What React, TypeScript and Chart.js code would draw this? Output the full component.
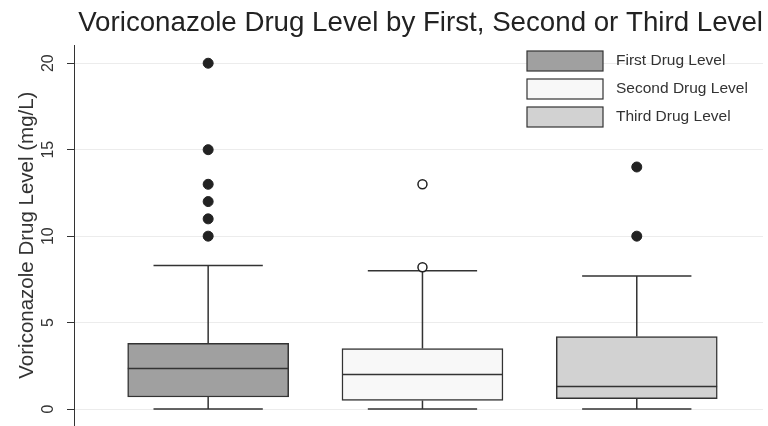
import React, { useEffect, useRef } from "react";
import { Chart, registerables } from "chart.js";

Chart.register(...registerables);

const groups = ["First Drug Level", "Second Drug Level", "Third Drug Level"];
const positions = [1, 2, 3];
const lowerWhisker = [0, 0, 0];
const q1 = [0.7, 0.5, 0.6];
const medians = [2.35, 2.0, 1.3];
const q3 = [3.8, 3.5, 4.2];
const upperWhisker = [8.3, 8.0, 7.7];
const outliersFirst = [20, 15, 13, 12, 11, 10];
const outliersSecond = [13, 8.2];
const outliersThird = [14, 10];
const yTicks = [0, 5, 10, 15, 20];

const fills = ["#a0a0a0", "#f8f8f8", "#d2d2d2"];
const stroke = "#333333";
const FONT = "'Liberation Sans', Arial, Helvetica, sans-serif";

const boxPlugin = {
  id: "boxExtras",
  beforeDatasetsDraw(chart: any) {
    const { ctx, scales } = chart;
    const x = scales.x;
    const y = scales.y;
    ctx.save();
    ctx.strokeStyle = stroke;
    ctx.lineWidth = 1.5;
    positions.forEach((p, i) => {
      const cx = x.getPixelForValue(p);
      const capL = x.getPixelForValue(p - 0.255);
      const capR = x.getPixelForValue(p + 0.255);
      const yHi = y.getPixelForValue(upperWhisker[i]);
      const yLo = y.getPixelForValue(lowerWhisker[i]);
      ctx.beginPath();
      ctx.moveTo(cx, yHi);
      ctx.lineTo(cx, y.getPixelForValue(q3[i]));
      ctx.moveTo(cx, yLo);
      ctx.lineTo(cx, y.getPixelForValue(q1[i]));
      ctx.moveTo(capL, yHi);
      ctx.lineTo(capR, yHi);
      ctx.moveTo(capL, yLo);
      ctx.lineTo(capR, yLo);
      ctx.stroke();
    });
    ctx.restore();
  },
  afterDatasetsDraw(chart: any) {
    const { ctx, scales } = chart;
    const x = scales.x;
    const y = scales.y;
    ctx.save();
    ctx.strokeStyle = stroke;
    ctx.lineWidth = 1.5;
    positions.forEach((p, i) => {
      const l = x.getPixelForValue(p - 0.375);
      const r = x.getPixelForValue(p + 0.375);
      const ym = y.getPixelForValue(medians[i]);
      ctx.beginPath();
      ctx.moveTo(l, ym);
      ctx.lineTo(r, ym);
      ctx.stroke();
    });
    ctx.restore();
  },
  afterDraw(chart: any) {
    const { ctx, scales } = chart;
    const y = scales.y;
    ctx.save();
    ctx.fillStyle = "#333333";
    ctx.font = `16px ${FONT}`;
    ctx.textAlign = "center";
    ctx.textBaseline = "middle";
    yTicks.forEach((t) => {
      const py = y.getPixelForValue(t);
      ctx.save();
      ctx.translate(49, py);
      ctx.rotate(-Math.PI / 2);
      ctx.fillText(String(t), 0, 0);
      ctx.restore();
    });
    ctx.font = `15.5px ${FONT}`;
    ctx.textAlign = "left";
    const lx = 527;
    const lw = 76;
    const lh = 20;
    const tops = [51, 79, 107];
    groups.forEach((g, i) => {
      ctx.fillStyle = fills[i];
      ctx.fillRect(lx, tops[i], lw, lh);
      ctx.strokeStyle = stroke;
      ctx.lineWidth = 1.2;
      ctx.strokeRect(lx, tops[i], lw, lh);
      ctx.fillStyle = "#333333";
      ctx.fillText(g, 616, tops[i] + lh / 2);
    });
    ctx.restore();
  },
};

export default function App() {
  const ref = useRef<HTMLCanvasElement | null>(null);
  useEffect(() => {
    document.body.style.margin = "0";
    const boxDatasets = groups.map((g, i) => ({
      type: "bar" as const,
      label: g,
      data: [{ x: positions[i], y: [q1[i], q3[i]] }],
      backgroundColor: fills[i],
      borderColor: stroke,
      borderWidth: 1.5,
      borderSkipped: false,
      barThickness: 161,
      grouped: false,
      order: 2,
    }));
    const filledPts = [
      ...outliersFirst.map((v) => ({ x: positions[0], y: v })),
      ...outliersThird.map((v) => ({ x: positions[2], y: v })),
    ];
    const hollowPts = outliersSecond.map((v) => ({ x: positions[1], y: v }));
    const chart = new Chart(ref.current as HTMLCanvasElement, {
      type: "bar",
      data: {
        datasets: [
          ...boxDatasets,
          {
            type: "scatter",
            label: "outliers",
            data: filledPts,
            pointRadius: 5,
            pointBackgroundColor: "#222222",
            pointBorderColor: "#222222",
            pointBorderWidth: 1,
            order: 1,
          },
          {
            type: "scatter",
            label: "outliers2",
            data: hollowPts,
            pointRadius: 4.5,
            pointBackgroundColor: "#ffffff",
            pointBorderColor: "#222222",
            pointBorderWidth: 1.5,
            order: 1,
          },
        ] as any,
      },
      options: {
        animation: false,
        responsive: false,
        maintainAspectRatio: false,
        layout: { autoPadding: false, padding: { left: 0, right: 5, top: 0, bottom: 1 } },
        plugins: {
          legend: { display: false },
          tooltip: { enabled: false },
          title: {
            display: true,
            text: "Voriconazole Drug Level by First, Second or Third Level",
            align: "end",
            color: "#222222",
            font: { family: FONT, size: 27.7, weight: "normal", lineHeight: 1.2 },
            padding: { top: 7, bottom: 5 },
          },
        },
        scales: {
          x: {
            type: "linear",
            min: 0.374,
            max: 3.589,
            offset: false,
            display: false,
            grid: { display: false },
          },
          y: {
            type: "linear",
            min: -0.92,
            max: 21.04,
            afterFit(scale: any) {
              scale.width = 74;
            },
            afterBuildTicks(scale: any) {
              scale.ticks = yTicks.map((v) => ({ value: v }));
            },
            ticks: { display: false },
            grid: {
              color: "#ececec",
              lineWidth: 1,
              tickColor: "#333333",
              tickLength: 7,
              drawTicks: true,
            },
            border: { display: true, color: "#333333", width: 1 },
            title: {
              display: true,
              text: "Voriconazole Drug Level (mg/L)",
              color: "#333333",
              font: { family: FONT, size: 20.5 },
              padding: { top: 15, bottom: 0 },
            },
          },
        },
      },
      plugins: [boxPlugin],
    } as any);
    return () => chart.destroy();
  }, []);
  return (
    <div style={{ position: "fixed", left: 0, top: 0, width: 768, height: 426 }}>
      <canvas ref={ref} width={768} height={426} style={{ width: 768, height: 426 }} />
    </div>
  );
}
